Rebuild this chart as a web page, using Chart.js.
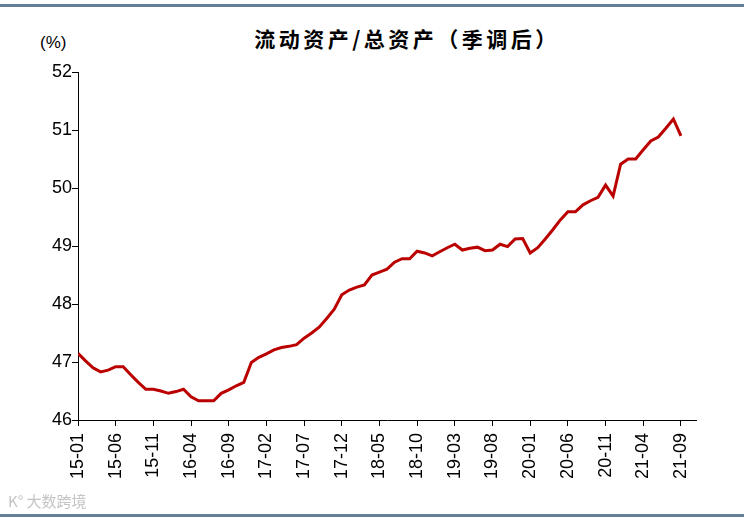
<!DOCTYPE html>
<html lang="zh">
<head>
<meta charset="UTF-8">
<title>流动资产/总资产（季调后）</title>
<script src="https://cdn.jsdelivr.net/npm/chart.js@4.4.0/dist/chart.umd.min.js"></script>
<style>
  html, body { margin: 0; padding: 0; background: #fff; }
  #wrap { position: relative; width: 744px; height: 521px; overflow: hidden; }
  #chart { position: absolute; left: 0; top: 0; }
  .rule { position: absolute; left: 0; width: 744px; height: 3px; background: #667f99; }
  #title { position: absolute; top: 23px; left: 0; width: 814px; text-align: center;
           font: bold 21px 'Noto Sans CJK SC'; letter-spacing: 3.5px; color: #000; }
  #unit { position: absolute; top: 33px; left: 40px; font: 17px 'Liberation Sans', Arial; color: #000; }
  #mark { position: absolute; top: 490px; left: 8px; font: 15px 'Noto Sans CJK SC'; color: #c4c4c4; }
</style>
</head>
<body>
<div id="wrap">
  <div class="rule" style="top:4px"></div>
  <div id="title">流动资产/总资产（季调后）</div>
  <div id="unit">(%)</div>
  <canvas id="chart" width="744" height="521"></canvas>
  <div id="mark">K° 大数跨境</div>
  <div class="rule" style="top:514px"></div>
</div>
<script>
// tick labels every 5 months, 15-01 .. 21-09
const tickLabels = ['15-01', '15-06', '15-11', '16-04', '16-09', '17-02', '17-07', '17-12', '18-05',
                    '18-10', '19-03', '19-08', '20-01', '20-06', '20-11', '21-04', '21-09'];

// monthly values 2015-01 .. 2021-09 (%)
const ratio = [
  47.15, 47.02, 46.90, 46.83, 46.86, 46.92, 46.92, 46.78, 46.65, 46.53,
  46.53, 46.50, 46.46, 46.49, 46.53, 46.40, 46.33, 46.33, 46.33, 46.46,
  46.52, 46.59, 46.65, 46.99, 47.08, 47.14, 47.21, 47.25, 47.27, 47.30,
  47.41, 47.50, 47.60, 47.75, 47.91, 48.16, 48.24, 48.29, 48.33, 48.50,
  48.55, 48.60, 48.72, 48.78, 48.78, 48.91, 48.88, 48.83, 48.90, 48.97,
  49.03, 48.93, 48.96, 48.98, 48.92, 48.93, 49.03, 48.99, 49.12, 49.13,
  48.88, 48.97, 49.12, 49.28, 49.45, 49.59, 49.59, 49.71, 49.78, 49.84,
  50.05, 49.86, 50.41, 50.50, 50.50, 50.66, 50.81, 50.88, 51.03, 51.19,
  50.90
];

const tickFont = { family: "'Liberation Sans', Arial", size: 18 };

new Chart(document.getElementById('chart'), {
  type: 'line',
  data: {
    datasets: [{
      data: ratio.map((v, i) => ({ x: i, y: v })),
      borderColor: '#bb0000',
      borderWidth: 3,
      pointRadius: 0,
      tension: 0,
      fill: false
    }]
  },
  options: {
    responsive: false,
    animation: false,
    devicePixelRatio: 1,
    layout: { padding: { top: 72, right: 48, bottom: 0, left: 0 } },
    plugins: { legend: { display: false }, tooltip: { enabled: false } },
    scales: {
      x: {
        type: 'linear',
        min: 0,
        max: 82,
        afterBuildTicks: (scale) => {
          scale.ticks = tickLabels.map((_, k) => ({ value: k * 5 }));
        },
        afterFit: (scale) => { scale.height = 101; },
        grid: { drawOnChartArea: false, tickLength: 6, color: '#000' },
        border: { color: '#000', width: 1 },
        ticks: {
          minRotation: 90,
          maxRotation: 90,
          padding: 7,
          color: '#000',
          font: tickFont,
          callback: (v, idx) => tickLabels[idx]
        }
      },
      y: {
        min: 46,
        max: 52,
        afterFit: (scale) => { scale.width = 78; },
        grid: { drawOnChartArea: false, tickLength: 6, color: '#000' },
        border: { color: '#000', width: 1 },
        ticks: { stepSize: 1, padding: 0, color: '#000', font: tickFont }
      }
    }
  }
});
</script>
</body>
</html>
